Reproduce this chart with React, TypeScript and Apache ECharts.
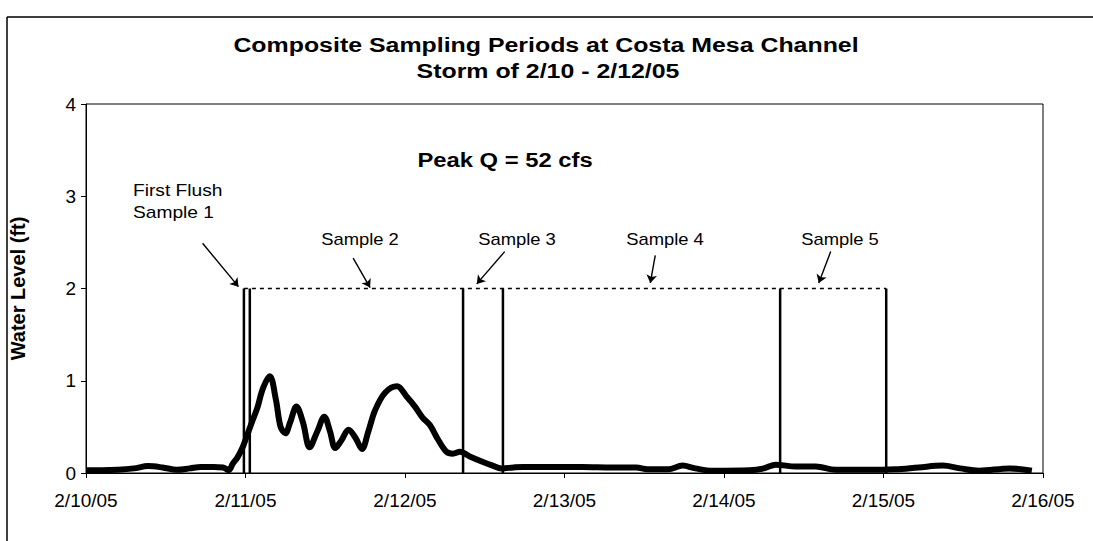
import React, { useEffect, useRef } from "react";
import * as echarts from "echarts";

// x values are days since 2/10/05 00:00
const dateLabels = ["2/10/05", "2/11/05", "2/12/05", "2/13/05", "2/14/05", "2/15/05", "2/16/05"];
const levelDays = [
  0, 0.1, 0.2, 0.3, 0.39, 0.48, 0.57, 0.65, 0.72, 0.8, 0.86, 0.895, 0.92, 0.95, 0.98, 1.0,
  1.04, 1.073, 1.11, 1.152, 1.19, 1.22, 1.25, 1.28, 1.319, 1.36, 1.402, 1.45, 1.494, 1.53,
  1.5625, 1.6, 1.646, 1.69, 1.73, 1.77, 1.8125, 1.875, 1.95, 2.01, 2.0625, 2.11, 2.156,
  2.208, 2.26, 2.3, 2.344, 2.406, 2.489, 2.55, 2.604, 2.68, 2.74, 2.9, 3.11, 3.3, 3.45,
  3.52, 3.65, 3.74, 3.82, 3.93, 4.16, 4.25, 4.325, 4.45, 4.575, 4.7, 4.99, 5.075, 5.22,
  5.37, 5.48, 5.6, 5.79, 5.93,
];
const levelValues = [
  0.03, 0.03, 0.035, 0.05, 0.075, 0.06, 0.035, 0.05, 0.065, 0.065, 0.06, 0.03, 0.1, 0.17, 0.27, 0.36,
  0.55, 0.7, 0.92, 1.05, 0.8, 0.5, 0.43, 0.55, 0.72, 0.55, 0.28, 0.45, 0.61, 0.45,
  0.27, 0.35, 0.47, 0.38, 0.26, 0.45, 0.68, 0.87, 0.94, 0.83, 0.72, 0.6, 0.52,
  0.36, 0.23, 0.21, 0.23, 0.18, 0.12, 0.08, 0.05, 0.06, 0.065, 0.065, 0.065, 0.06, 0.06,
  0.04, 0.04, 0.08, 0.05, 0.025, 0.03, 0.05, 0.09, 0.07, 0.07, 0.035, 0.035, 0.04, 0.06,
  0.08, 0.05, 0.025, 0.05, 0.025,
];
const sampleBounds = [0.99, 1.027, 2.364, 2.614, 4.352, 5.017];
const sampleLevel = 2;
const sampleNames = ["Sample 2", "Sample 3", "Sample 4", "Sample 5"];
const peakText = "Peak Q = 52 cfs";
const titleLines = ["Composite Sampling Periods at Costa Mesa Channel", "Storm of 2/10 - 2/12/05"];

export default function App() {
  const ref = useRef<HTMLDivElement>(null);
  useEffect(() => {
    if (!ref.current) return;
    const chart = echarts.init(ref.current, undefined, { renderer: "svg" });
    const FONT = '"Liberation Sans", Arial, sans-serif';
    const arrows: [number[], number[]][] = [
      [[0.731, 2.49], [0.956, 2.02]],
      [[1.675, 2.33], [1.781, 2.01]],
      [[2.625, 2.4], [2.45, 2.05]],
      [[3.569, 2.36], [3.538, 2.06]],
      [[4.669, 2.4], [4.594, 2.06]],
    ];
    const txt = (text: string, x: number, y: number, size: number, bold: boolean, sx: number, align = "center") => ({
      type: "text",
      x,
      y,
      scaleX: sx,
      silent: true,
      style: {
        text,
        font: `${bold ? "bold " : ""}${size}px ${FONT}`,
        fill: "#000",
        textAlign: align,
        textVerticalAlign: "middle",
        align,
        verticalAlign: "middle",
      },
    });
    const samplePos = [360, 517, 665, 840];
    chart.setOption({
      animation: false,
      backgroundColor: "#fff",
      grid: {
        left: 83,
        right: 50,
        top: 104,
        bottom: 68,
        show: true,
        borderColor: "#000",
        borderWidth: 1,
      },
      xAxis: {
        type: "value",
        min: 0,
        max: 6,
        interval: 1,
        axisLine: { lineStyle: { color: "#000", width: 1 } },
        axisTick: { show: true, length: 5, lineStyle: { color: "#000" } },
        splitLine: { show: false },
        axisLabel: {
          color: "#000",
          fontFamily: FONT,
          fontSize: 19,
          margin: 18,
          showMaxLabel: true,
          formatter: (v: number) => dateLabels[Math.round(v)] ?? "",
        },
      },
      yAxis: {
        type: "value",
        min: 0,
        max: 4,
        interval: 1,
        name: "Water Level (ft)",
        nameLocation: "middle",
        nameRotate: 90,
        nameGap: 58,
        nameTextStyle: { color: "#000", fontFamily: FONT, fontSize: 20, fontWeight: "bold" },
        axisLine: { show: true, lineStyle: { color: "#000", width: 1 } },
        axisTick: { show: true, length: 5, lineStyle: { color: "#000" } },
        splitLine: { show: false },
        axisLabel: { color: "#000", fontFamily: FONT, fontSize: 19, margin: 10 },
      },
      series: [
        {
          type: "line",
          data: levelDays.map((d, i) => [d, levelValues[i]]),
          symbol: "none",
          smooth: 0.35,
          lineStyle: { color: "#000", width: 6 },
          z: 3,
        },
        ...sampleBounds.map((b) => ({
          type: "line",
          data: [
            [b, 0],
            [b, sampleLevel],
          ],
          symbol: "none",
          lineStyle: { color: "#000", width: 2.5 },
          z: 4,
        })),
        {
          type: "line",
          data: [
            [sampleBounds[0], sampleLevel],
            [sampleBounds[sampleBounds.length - 1], sampleLevel],
          ],
          symbol: "none",
          lineStyle: { color: "#000", width: 1.5, type: [4, 4] },
          z: 4,
          markLine: {
            silent: true,
            animation: false,
            symbol: ["none", "arrow"],
            symbolSize: 8,
            label: { show: false },
            lineStyle: { color: "#000", width: 1.4, type: "solid" },
            data: arrows.map(([a, b]) => [{ coord: a }, { coord: b }]),
          },
        },
      ],
      graphic: [
        { type: "line", shape: { x1: 7, y1: 17, x2: 1093, y2: 17 }, style: { stroke: "#000", lineWidth: 1.5 } },
        { type: "line", shape: { x1: 7, y1: 17, x2: 7, y2: 541 }, style: { stroke: "#000", lineWidth: 1.5 } },
        txt(titleLines[0], 546, 45, 20, true, 1.245),
        txt(titleLines[1], 548, 71, 20, true, 1.245),
        txt(peakText, 505, 160, 20, true, 1.19),
        txt("First Flush", 133, 191, 16, false, 1.2, "left"),
        txt("Sample 1", 133, 213, 16, false, 1.2, "left"),
        ...sampleNames.map((s, i) => txt(s, samplePos[i], 239, 16, false, 1.15)),
      ],
    });
    return () => chart.dispose();
  }, []);
  return <div ref={ref} style={{ position: "fixed", left: 0, top: 0, width: 1093, height: 541 }} />;
}
